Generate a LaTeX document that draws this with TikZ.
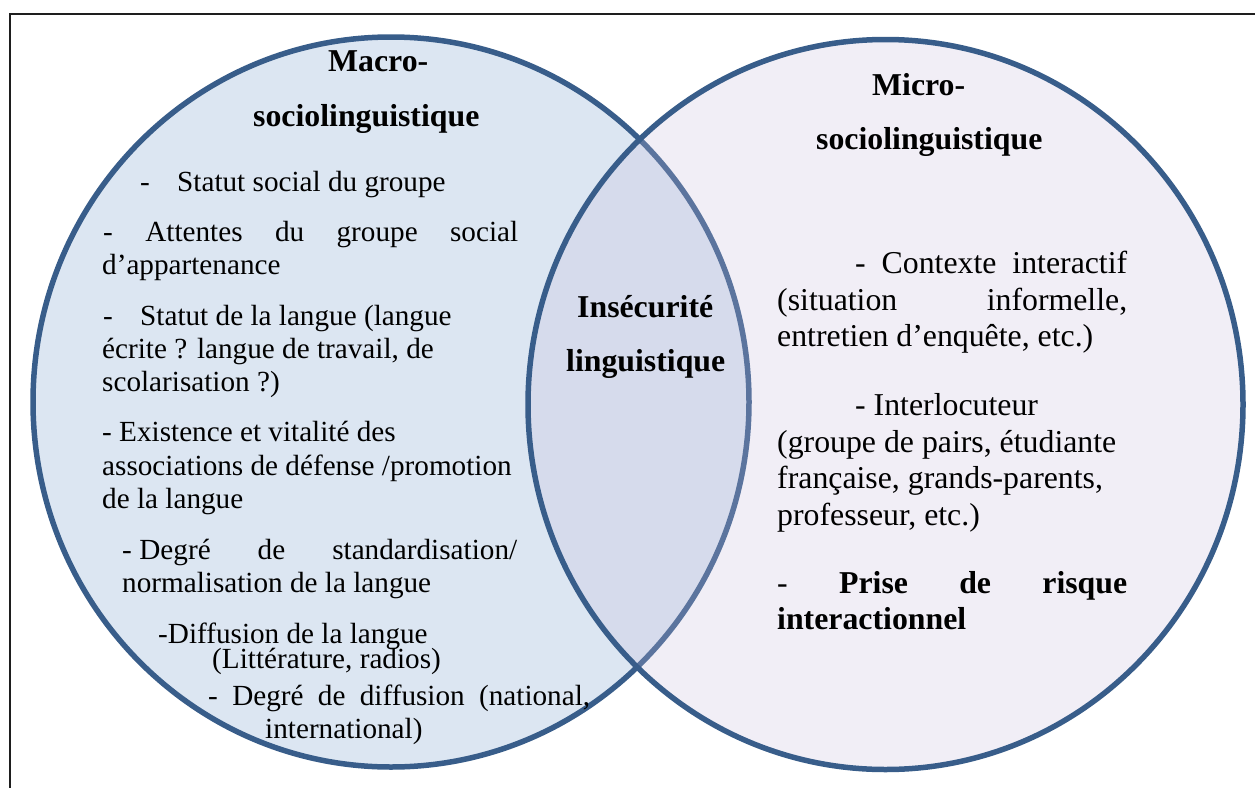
\documentclass[tikz,border=0pt]{standalone}
\usepackage{fontspec}
\setmainfont{Liberation Serif}
\definecolor{circstroke}{RGB}{56,93,138}
\definecolor{leftfill}{RGB}{220,230,242}
\definecolor{rightfill}{RGB}{199,187,219}
\definecolor{framecol}{RGB}{30,30,30}
\tikzset{
  lt/.style={anchor=base west, inner sep=0pt, font=\fontsize{29.2}{33}\selectfont},
  rt/.style={anchor=base west, inner sep=0pt, font=\fontsize{31.8}{36.5}\selectfont},
  hd/.style={anchor=base west, inner sep=0pt, font=\fontsize{31.8}{36.5}\selectfont\bfseries},
  circ/.style={line width=5.5pt, draw=circstroke},
  framebox/.style={draw=framecol, line width=2pt},
}
\begin{document}
\begin{tikzpicture}[x=1pt,y=-1pt]
\useasboundingbox (0,0) rectangle (1255,787);
\clip (0,0) rectangle (1255,787);
\draw[framebox] (10,14) rectangle (1300,830);
% circles
\path[circ, fill=leftfill] (391,402) ellipse [x radius=358, y radius=365];
\path[circ, fill=rightfill, fill opacity=0.25] (885.5,404.5) ellipse [x radius=357.5, y radius=365];
% headings
\node[hd] (h1) at (328,71) {Macro-};
\node[hd] (h2) at (253,126) {sociolinguistique};
\node[hd] (h3) at (872,95) {Micro-};
\node[hd] (h4) at (816,149) {sociolinguistique};
\node[hd] (h5) at (577,317) {Insécurité};
\node[hd] (h6) at (566,371) {linguistique};
% left list
\node[lt] (l1) at (140,191.7) {\makebox[37pt][l]{-}Statut social du groupe};
\node[lt] (l2) at (103,241.7) {\makebox[415pt][s]{- Attentes du groupe social}};
\node[lt] (l3) at (102,274) {d’appartenance};
\node[lt] (l4) at (103,325) {\makebox[37pt][l]{-}Statut de la langue (langue};
\node[lt] (l5) at (102,358) {écrite ? langue de travail, de};
\node[lt] (l6) at (102,391) {scolarisation ?)};
\node[lt] (l7) at (102,441.7) {- Existence et vitalité des};
\node[lt] (l8) at (102,475) {associations de défense /promotion};
\node[lt] (l9) at (102,508) {de la langue};
\node[lt] (l10) at (122,559) {\makebox[395pt][s]{-\hspace{7.5pt}Degré de standardisation/}};
\node[lt] (l11) at (122,592) {normalisation de la langue};
\node[lt] (l12) at (158,643) {-Diffusion de la langue};
\node[lt] (l13) at (212,668) {(Littérature, radios)};
\node[lt] (l14) at (208,705) {\makebox[382pt][s]{- Degré de diffusion (national,}};
\node[lt] (l15) at (265,738) {international)};
% right list
\node[rt] (r1) at (855,273) {\makebox[272pt][s]{- Contexte interactif}};
\node[rt] (r2) at (777,310) {\makebox[350pt][s]{(situation informelle,}};
\node[rt] (r3) at (777,346) {entretien d’enquête, etc.)};
\node[rt] (r4) at (855,415) {- Interlocuteur};
\node[rt] (r5) at (777,452) {(groupe de pairs, étudiante};
\node[rt] (r6) at (777,488) {française, grands-parents,};
\node[rt] (r7) at (777,525) {professeur, etc.)};
\node[rt] (r8) at (777,593) {\makebox[350pt][s]{- \textbf{Prise} \textbf{de} \textbf{risque}}};
\node[hd] (r9) at (777,629) {interactionnel};
\end{tikzpicture}
\end{document}
